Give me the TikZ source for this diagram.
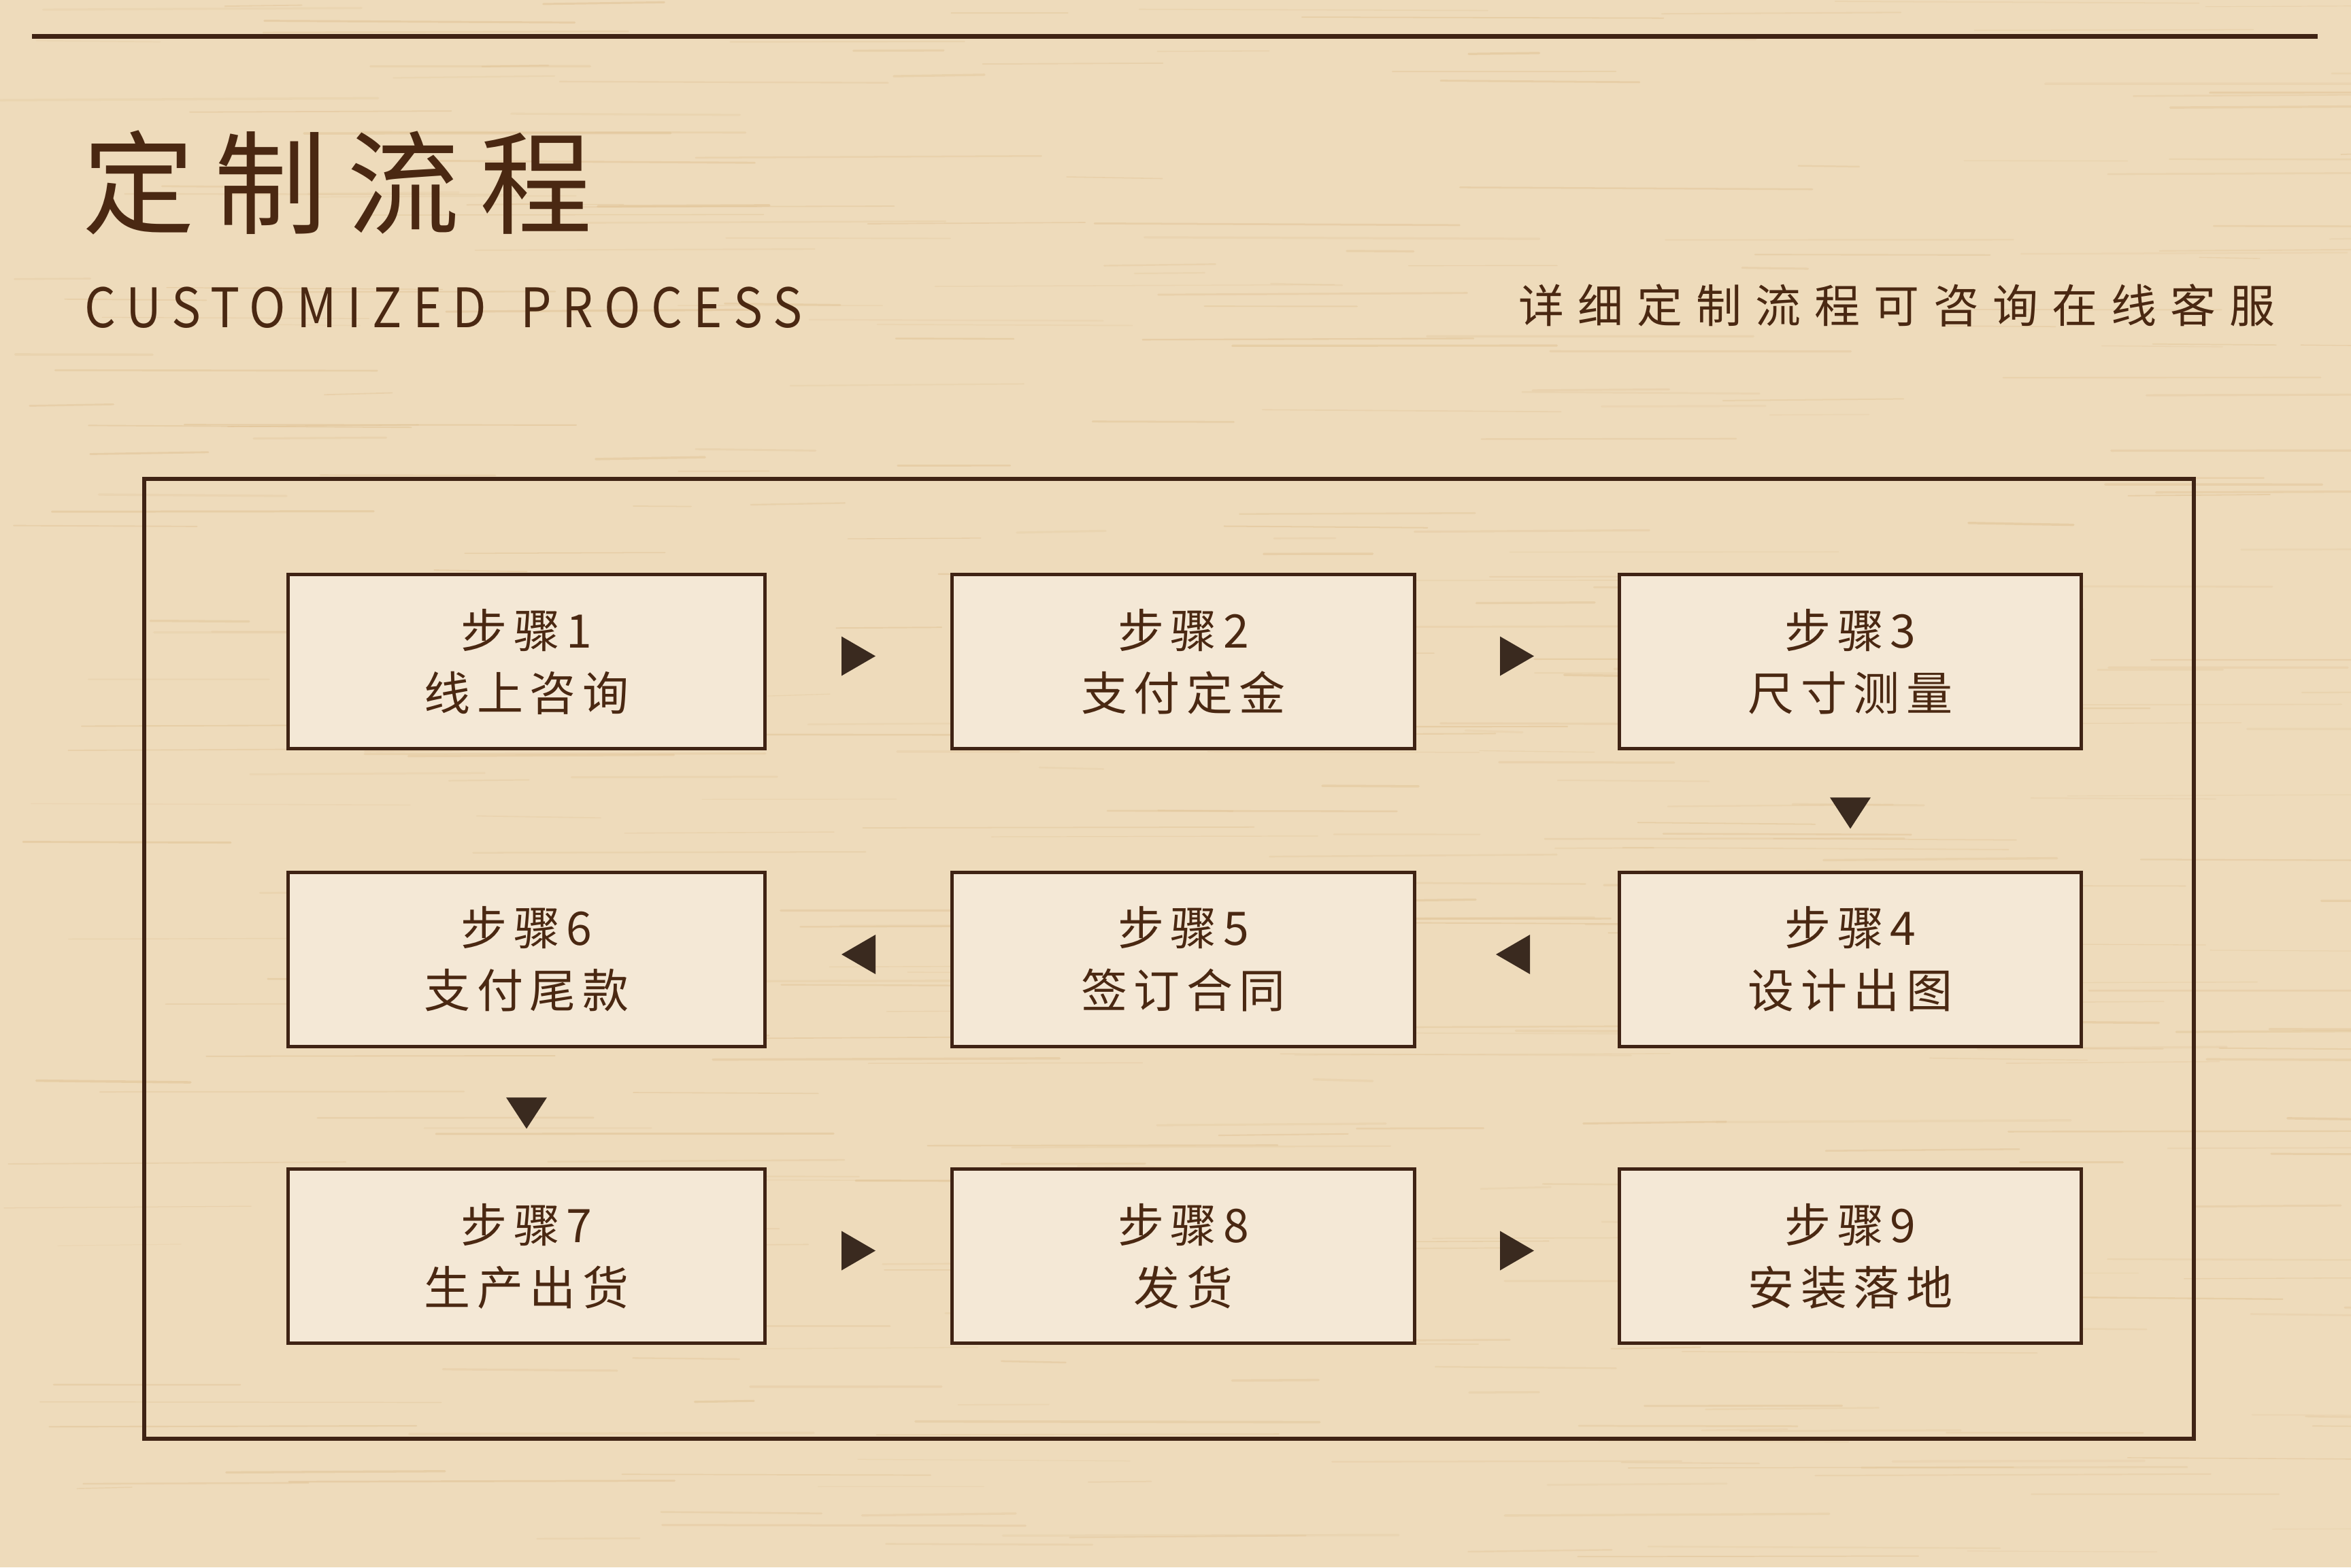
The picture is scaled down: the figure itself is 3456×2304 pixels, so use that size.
\documentclass[tikz,border=0pt]{standalone}
\usepackage{fontspec}
\setmainfont{Noto Sans CJK SC}
\newfontfamily\titlefont{Noto Sans CJK SC}[LetterSpace=18]
\newfontfamily\notefont{Noto Sans CJK SC}[LetterSpace=30]
\newfontfamily\boxfont{Noto Sans CJK SC}[LetterSpace=14]
\newfontfamily\enfont{Noto Sans CJK SC}[LetterSpace=20,FakeStretch=0.9]
\usetikzlibrary{calc}
\definecolor{bg}{HTML}{EEDBBB}
\definecolor{grain}{HTML}{E0C294}
\definecolor{boxfill}{HTML}{F4E8D6}
\definecolor{ink}{HTML}{3F2314}
\definecolor{textink}{HTML}{4A2812}
\definecolor{arrowink}{HTML}{3A2A1F}
\begin{document}
\begin{tikzpicture}[x=0.5pt,y=-0.5pt,
  stepbox/.style={draw=ink, line width=2.5pt, fill=boxfill, minimum height=128pt, inner sep=0pt, align=center, text=textink, font=\boxfont\fontsize{34pt}{46pt}\selectfont},
  tri/.style={fill=arrowink},
  plain/.style={inner sep=0pt, text=textink},
  grainline/.style={draw=grain, line cap=round}]
\fill[bg] (0,0) rectangle (3456,2304);
\path[use as bounding box] (0,0) rectangle (3456,2304);
% wood grain texture
\pgfmathsetseed{11}
\foreach \i in {1,...,420}{
  \pgfmathsetmacro{\gx}{rnd*3456}
  \pgfmathsetmacro{\gy}{rnd*2304}
  \pgfmathsetmacro{\gl}{80+rnd*520}
  \pgfmathsetmacro{\gw}{0.6+rnd*1.2}
  \pgfmathsetmacro{\go}{0.2+rnd*0.35}
  \draw[grainline, line width=\gw pt, draw opacity=\go] (\gx,\gy) -- ++(\gl,{(rnd-0.5)*6});
}
% top rule
\coordinate (tl) at (47,53);
\coordinate (tr) at (3407,53);
\draw[ink, line width=3.5pt] (tl) -- (tr);
% heading texts
\node[plain, anchor=west, font=\titlefont\fontsize{82.5pt}{90pt}\selectfont] (title) at (121,268) {定制流程};
\node[plain, anchor=west, font=\enfont\fontsize{40pt}{44pt}\selectfont] (sub) at (124,452) {CUSTOMIZED\hspace{25pt}PROCESS};
\node[plain, anchor=east, font=\notefont\fontsize{33.5pt}{40pt}\selectfont] (note) at (3345,449) {详细定制流程可咨询在线客服};
% outer frame
\node[draw=ink, line width=3pt, minimum width=1506.5pt, minimum height=705.5pt, inner sep=0pt] (frame) at (1718.5,1409.5) {};
% steps
\node[stepbox, minimum width=350.5pt] (s1) at (774,972.5) {步骤1\\线上咨询};
\node[stepbox, minimum width=340pt] (s2) at (1739.5,972.5) {步骤2\\支付定金};
\node[stepbox, minimum width=339.5pt] (s3) at (2720,972.5) {步骤3\\尺寸测量};
\node[stepbox, minimum width=339.5pt] (s4) at (2720,1410) {步骤4\\设计出图};
\node[stepbox, minimum width=340pt] (s5) at (1739.5,1410) {步骤5\\签订合同};
\node[stepbox, minimum width=350.5pt] (s6) at (774,1410) {步骤6\\支付尾款};
\node[stepbox, minimum width=350.5pt] (s7) at (774,1846.5) {步骤7\\生产出货};
\node[stepbox, minimum width=340pt] (s8) at (1739.5,1846.5) {步骤8\\发货};
\node[stepbox, minimum width=339.5pt] (s9) at (2720,1846.5) {步骤9\\安装落地};
% arrow positions
\coordinate (m12) at ($(s1.east)!0.5!(s2.west)+(0,-8)$);
\coordinate (m23) at ($(s2.east)!0.5!(s3.west)+(0,-8)$);
\coordinate (m34) at ($(s3.south)!0.5!(s4.north)+(0,4)$);
\coordinate (m45) at ($(s5.east)!0.5!(s4.west)+(-6,-7)$);
\coordinate (m56) at ($(s6.east)!0.5!(s5.west)+(0,-7)$);
\coordinate (m67) at ($(s6.south)!0.5!(s7.north)+(0,8)$);
\coordinate (m78) at ($(s7.east)!0.5!(s8.west)+(0,-8)$);
\coordinate (m89) at ($(s8.east)!0.5!(s9.west)+(0,-8)$);
% right-pointing
\foreach \m in {m12,m23,m78,m89}{
  \fill[tri] ($(\m)+(-25,-29)$) -- ($(\m)+(25,0)$) -- ($(\m)+(-25,29)$) -- cycle;
}
% left-pointing
\foreach \m in {m45,m56}{
  \fill[tri] ($(\m)+(25,-29)$) -- ($(\m)+(-25,0)$) -- ($(\m)+(25,29)$) -- cycle;
}
% down-pointing
\foreach \m in {m34,m67}{
  \fill[tri] ($(\m)+(-30,-23)$) -- ($(\m)+(30,-23)$) -- ($(\m)+(0,23)$) -- cycle;
}
\end{tikzpicture}
\end{document}
